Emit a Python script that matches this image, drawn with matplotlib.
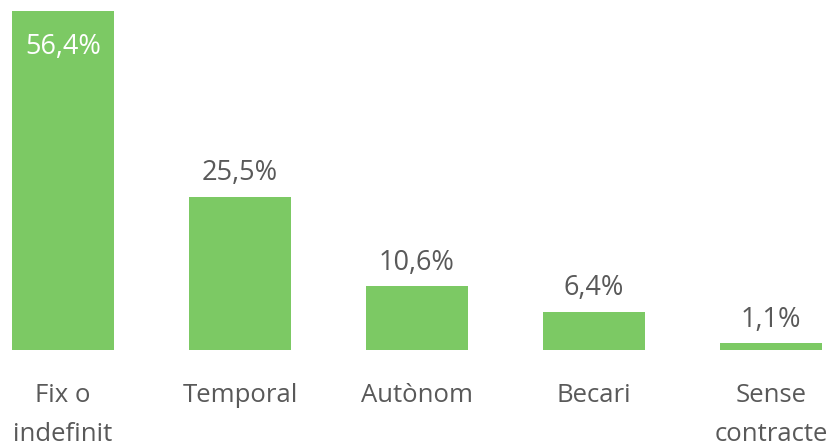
import matplotlib
matplotlib.use("Agg")
import matplotlib.pyplot as plt

categories = ["Fix o\nindefinit", "Temporal", "Autònom", "Becari", "Sense\ncontracte"]
values = [56.4, 25.5, 10.6, 6.4, 1.1]

BAR_COLOR = "#7cc964"
TEXT_COLOR = "#595959"
plt.rcParams["font.family"] = ["Open Sans", "DejaVu Sans"]

W, H = 838, 445
fig = plt.figure(figsize=(W / 100, H / 100), dpi=100)

# axes sized in pixels: baseline 95 px from bottom, bar pitch 177 px
pitch = 177.0
first_center = 63.0
ax = fig.add_axes([0, 95 / H, 1, 350 / H])
ax.set_xlim(-first_center / pitch, (W - first_center) / pitch)
ax.set_ylim(0, 56.4 + 11 / 6.01)
ax.axis("off")

xs = list(range(len(values)))
ax.bar(xs, values, width=102 / pitch, color=BAR_COLOR)

for x, v in zip(xs, values):
    label = f"{v:.1f}%".replace(".", ",")
    if v > 50:
        ax.text(x, v - 3.6, label, ha="center", va="top",
                color="white", fontsize=19.5)
    else:
        ax.text(x, v + 1.6, label, ha="center", va="bottom",
                color=TEXT_COLOR, fontsize=19.5)

# category names below the bars; the two-line ones run to the bottom edge
for x, c in zip(xs, categories):
    ax.text(x, -5.5, c, ha="center", va="top", color=TEXT_COLOR,
            fontsize=18.5, linespacing=1.72, clip_on=False)

fig.savefig("out.png", dpi=100)
